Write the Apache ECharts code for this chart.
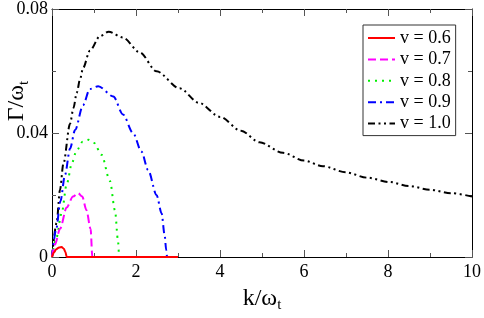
<!DOCTYPE html>
<html>
<head>
<meta charset="utf-8">
<script src="https://cdn.jsdelivr.net/npm/echarts@6/dist/echarts.min.js"></script>
<style>
html,body{margin:0;padding:0;background:#fff;}
#chart{width:484px;height:318px;}
</style>
</head>
<body>
<div id="chart"></div>
<script>
// ---- data ----
var seriesNames = ['v = 0.6', 'v = 0.7', 'v = 0.8', 'v = 0.9', 'v = 1.0'];

var k06 = [0, 0.05, 0.1, 0.17, 0.23, 0.28, 0.32, 0.35, 0.35, 3.0];
var g06 = [0, 0.0015, 0.0025, 0.0031, 0.0032, 0.0027, 0.0016, 0, 0, 0];

var k07 = [0, 0.07, 0.19, 0.35, 0.5, 0.62, 0.72, 0.82, 0.92, 0.96, 0.96, 3.0];
var g07 = [0, 0.004, 0.009, 0.016, 0.0195, 0.0206, 0.0195, 0.0151, 0.009, 0, 0, 0];

var k08 = [0, 0.1, 0.23, 0.35, 0.48, 0.58, 0.73, 0.87, 1.0, 1.18, 1.38, 1.5, 1.57, 1.6, 1.6, 3.0];
var g08 = [0, 0.006, 0.0141, 0.0235, 0.0305, 0.0342, 0.0372, 0.0378, 0.0368, 0.033, 0.0245, 0.015, 0.0055, 0, 0, 0];

var k09 = [0, 0.1, 0.2, 0.31, 0.43, 0.55, 0.74, 0.9, 1.1, 1.46, 1.69, 1.93, 2.13, 2.29, 2.49, 2.61, 2.68, 2.72, 2.74, 2.74, 3.0];
var g09 = [0, 0.009, 0.018, 0.0265, 0.035, 0.041, 0.049, 0.0542, 0.0551, 0.0518, 0.046, 0.040, 0.034, 0.028, 0.020, 0.0141, 0.0072, 0.0022, 0, 0, 0];

var k10 = [0, 0.11, 0.19, 0.27, 0.43, 0.51, 0.59, 0.67, 0.74, 0.9, 1.14, 1.35, 1.69, 2.09, 2.49, 3.04, 3.5, 4.0, 4.5, 4.94, 5.5, 6.0, 6.45, 7.0, 7.5, 8.03, 8.5, 9.0, 9.5, 10.0];
var g10 = [0, 0.011, 0.0216, 0.030, 0.043, 0.048, 0.053, 0.0575, 0.061, 0.0665, 0.0712, 0.0727, 0.0708, 0.066, 0.0599, 0.0544, 0.0497, 0.0452, 0.0407, 0.037, 0.0336, 0.0311, 0.0293, 0.0273, 0.0256, 0.0242, 0.0229, 0.0217, 0.0206, 0.0195];

var xTickValues = [0, 2, 4, 6, 8, 10];
var yTickLabels = ['0', '0.04', '0.08'];

// ---- styles ----
var colors = ['#ff0000', '#ff00ff', '#00ee00', '#0000ff', '#000000'];
var dashes = ['solid', [8, 4], [2, 5], [8, 4, 2, 4], [7, 3.5, 2, 3.5, 2, 3.5]];
var kList = [k06, k07, k08, k09, k10];
var gList = [g06, g07, g08, g09, g10];

function pairs(k, g) {
  return k.map(function (x, i) { return [x, g[i]]; });
}

var series = seriesNames.map(function (name, i) {
  return {
    name: name,
    type: 'line',
    xAxisIndex: 0,
    yAxisIndex: 0,
    data: pairs(kList[i], gList[i]),
    symbol: 'none',
    showSymbol: false,
    smooth: 0.3,
    smoothMonotone: 'x',
    z: 10 - i,
    lineStyle: { color: colors[i], width: 2, type: dashes[i], cap: 'butt' },
    itemStyle: { color: colors[i] }
  };
});

var serif = 'Liberation Serif, Times New Roman, serif';
var tickLine = { color: '#555', width: 1 };

function xAx(pos, showLabel) {
  return {
    type: 'value', position: pos, min: 0, max: 10, interval: 2,
    axisLine: { show: true, onZero: false, lineStyle: { color: '#000', width: 1 } },
    axisTick: { show: true, inside: true, length: 7, lineStyle: tickLine },
    minorTick: { show: true, splitNumber: 2, length: 4, lineStyle: tickLine },
    splitLine: { show: false }, minorSplitLine: { show: false },
    axisLabel: {
      show: showLabel, margin: 6, color: '#000', fontFamily: serif, fontSize: 18,
      formatter: function (v) { return xTickValues.indexOf(v) >= 0 ? String(v) : ''; }
    }
  };
}
function yAx(pos, showLabel) {
  return {
    type: 'value', position: pos, min: 0, max: 0.08, interval: 0.04,
    axisLine: { show: true, onZero: false, lineStyle: { color: '#000', width: 1 } },
    axisTick: { show: true, inside: true, length: 7, lineStyle: tickLine },
    minorTick: { show: true, splitNumber: 2, length: 4, lineStyle: tickLine },
    splitLine: { show: false }, minorSplitLine: { show: false },
    axisLabel: {
      show: showLabel, margin: 4, color: '#000', fontFamily: serif, fontSize: 18,
      formatter: function (v) { return yTickLabels[Math.round(v / 0.04)]; }
    }
  };
}

var xBottom = xAx('bottom', true);
xBottom.name = '{a|k/ω}{b|t}';
xBottom.nameLocation = 'middle';
xBottom.nameGap = 27;
xBottom.nameTextStyle = {
  color: '#000', fontFamily: serif,
  rich: {
    a: { fontSize: 24, fontFamily: serif, color: '#000' },
    b: { fontSize: 15, fontFamily: serif, color: '#000', padding: [14, 0, 0, 0] }
  }
};

var chart = echarts.init(document.getElementById('chart'), null, { renderer: 'canvas' });
chart.setOption({
  animation: false,
  backgroundColor: '#fff',
  grid: { left: 52, right: 11, top: 6, bottom: 44, containLabel: false },
  xAxis: [xBottom, xAx('top', false)],
  yAxis: [yAx('left', true), yAx('right', false)],
  legend: {
    orient: 'vertical',
    left: 363, top: 25,
    padding: [4, 5, 3, 4],
    itemWidth: 27, itemHeight: 14, itemGap: 3.4,
    borderColor: '#333', borderWidth: 1,
    backgroundColor: '#fff',
    itemStyle: { color: 'rgba(0,0,0,0)', borderColor: 'rgba(0,0,0,0)', borderWidth: 0 },
    textStyle: { fontFamily: serif, fontSize: 18, color: '#000', lineHeight: 14 },
    data: seriesNames
  },
  graphic: [{
    type: 'text',
    x: 17, y: 101,
    rotation: Math.PI / 2,
    style: {
      text: '{a|Γ/ω}{b|t}',
      align: 'center', verticalAlign: 'middle',
      fill: '#000',
      rich: {
        a: { fontSize: 24, fontFamily: serif, fill: '#000' },
        b: { fontSize: 15, fontFamily: serif, fill: '#000', padding: [14, 0, 0, 0] }
      }
    }
  }],
  series: series
});
</script>
</body>
</html>
